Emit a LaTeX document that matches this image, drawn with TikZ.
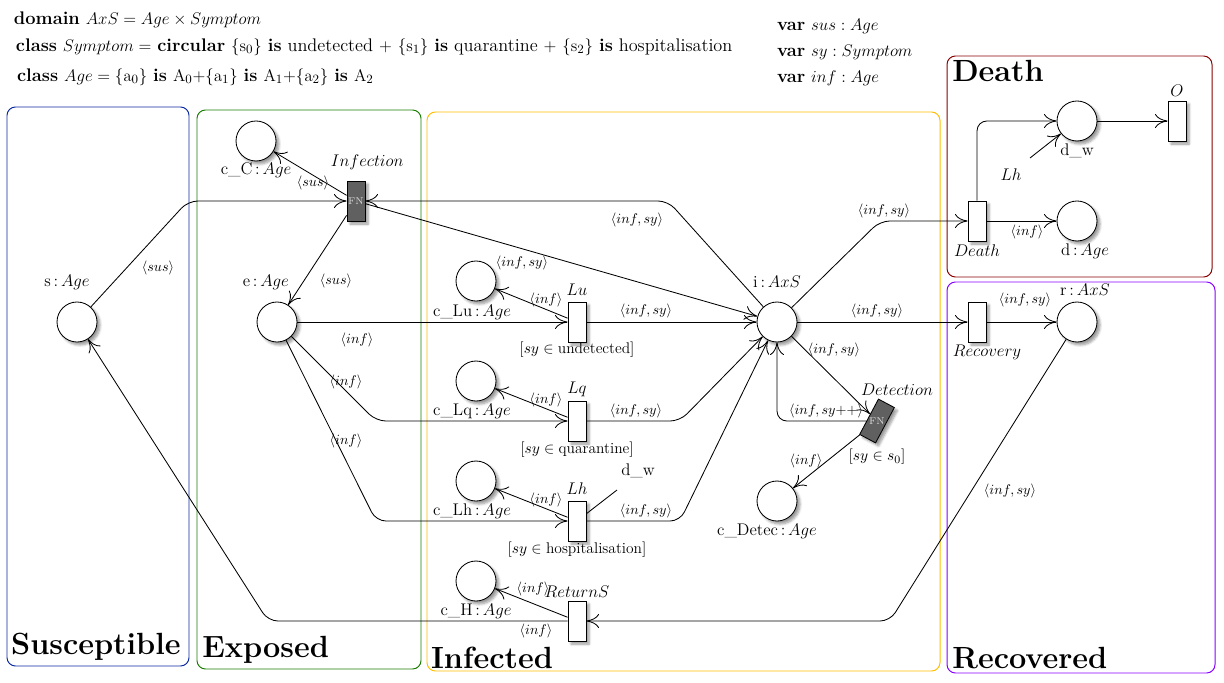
\documentclass[tikz,border=0pt]{standalone}
\usepackage{amsmath,amssymb}
\usetikzlibrary{arrows.meta,calc,shadows.blur}
\definecolor{susc}{RGB}{10,40,160}
\definecolor{expo}{RGB}{25,125,0}
\definecolor{infc}{RGB}{255,190,0}
\definecolor{dead}{RGB}{140,0,0}
\definecolor{reco}{RGB}{135,0,255}
\definecolor{fnfill}{RGB}{96,96,96}
\newcommand{\tp}[2]{#1\,:\,$#2$}
\tikzset{
  every picture/.style={line width=0.6pt,
    >={Computer Modern Rightarrow[length=9pt,width=10pt]}},
  % Stellen und Transitionen
  place/.style={circle, draw, fill=white, minimum size=1cm, inner sep=0pt,
    blur shadow={shadow blur steps=6}},
  trans/.style={rectangle, draw, fill=white, minimum width=0.45cm,
    minimum height=1cm, inner sep=0pt, blur shadow={shadow blur steps=6}},
  fntrans/.style={trans, fill=fnfill},
  fntxt/.style={font=\scriptsize, text=black!15},
  % Kanten
  flow/.style={->, rounded corners=7pt},
  % Beschriftungen
  pl/.style={font=\large},
  al/.style={font=\normalsize, inner sep=1pt},
  guard/.style={font=\fontsize{11}{13}\selectfont, inner sep=1pt},
  region/.style={draw=#1, rounded corners=6pt, line width=0.7pt},
  boxtitle/.style={font=\fontsize{21.8}{26}\selectfont\bfseries, anchor=west},
  decl/.style={font=\fontsize{13}{15.6}\selectfont, anchor=west},
}
\begin{document}
\begin{tikzpicture}
  \useasboundingbox (0,0) rectangle (30.6,17.05);
  % Bereiche
  \draw[region=susc] (0.175,0.4) rectangle (4.725,14.375);
  \draw[region=expo] (4.925,0.325) rectangle (10.525,14.3);
  \draw[region=infc] (10.675,0.275) rectangle (23.5,14.25);
  \draw[region=dead] (23.675,10.125) rectangle (30.3,15.65);
  \draw[region=reco] (23.675,0.225) rectangle (30.375,10.0);
  \node[boxtitle] at (0.15,0.875) {Susceptible};
  \node[boxtitle] at (4.93,0.8) {Exposed};
  \node[boxtitle] at (10.65,0.6) {Infected};
  \node[boxtitle] at (23.68,15.275) {Death};
  \node[boxtitle] at (23.68,0.6) {Recovered};
  % Deklarationen
  \node[decl] at (0.22,16.55) {\textbf{domain} $AxS = Age\times Symptom$};
  \node[decl] at (0.27,15.875) {\textbf{class} $Symptom =$ \textbf{circular}
    $\{\mathrm{s}_0\}$ \textbf{is} undetected $+$ $\{\mathrm{s}_1\}$ \textbf{is}
    quarantine $+$ $\{\mathrm{s}_2\}$ \textbf{is} hospitalisation};
  \node[decl] at (0.3,15.125) {\textbf{class} $Age = \{\mathrm{a}_0\}$ \textbf{is}
    $\mathrm{A}_0{+}\{\mathrm{a}_1\}$ \textbf{is} $\mathrm{A}_1{+}\{\mathrm{a}_2\}$
    \textbf{is} $\mathrm{A}_2$};
  \node[decl] at (19.3,16.4) {\textbf{var} $sus : Age$};
  \node[decl] at (19.3,15.75) {\textbf{var} $sy : Symptom$};
  \node[decl] at (19.3,15.1) {\textbf{var} $inf : Age$};
  % Stellen und Transitionen
  \node[place] (s) at (1.925,9) {};
  \node[place] (e) at (6.925,9) {};
  \node[place] (cC) at (6.4,13.525) {};
  \node[fntrans] (infn) at (8.9,12.025) {};
  \node[fntxt] at (infn) {FN};
  \node[place] (cLu) at (11.9,10.025) {};
  \node[trans] (Lu) at (14.425,9) {};
  \node[place] (cLq) at (11.9,7.525) {};
  \node[trans] (Lq) at (14.425,6.525) {};
  \node[place] (cLh) at (11.9,5.025) {};
  \node[trans] (Lh) at (14.425,4.025) {};
  \node[place] (cH) at (11.9,2.525) {};
  \node[trans] (ret) at (14.425,1.525) {};
  \node[place] (i) at (19.425,9) {};
  \node[fntrans, rotate=-28] (det) at (21.925,6.525) {};
  \node[fntxt] at (det) {FN};
  \node[place] (cDet) at (19.425,4.525) {};
  \node[trans] (dth) at (24.425,11.525) {};
  \node[place] (d) at (26.925,11.525) {};
  \node[place] (dw) at (26.925,14.025) {};
  \node[trans] (O) at (29.425,14.025) {};
  \node[trans] (rec) at (24.425,9) {};
  \node[place] (r) at (26.925,9) {};
  % Namen, Typen und Waechter
  \node[pl] at ($(s)+(-0.25,1)$) {\tp{s}{Age}};
  \node[pl] at ($(e)+(-0.28,1)$) {\tp{e}{Age}};
  \node[pl] at ($(cC)+(0,-0.73)$) {\tp{c\_C}{Age}};
  \node[pl] at ($(infn)+(0.28,0.98)$) {$Infection$};
  \node[pl] at ($(cLu)+(-0.1,-0.78)$) {\tp{c\_Lu}{Age}};
  \node[pl] at ($(Lu)+(0,0.8)$) {$Lu$};
  \node[guard] at ($(Lu)+(0,-0.7)$) {$[sy\in\text{undetected}]$};
  \node[pl] at ($(cLq)+(-0.1,-0.75)$) {\tp{c\_Lq}{Age}};
  \node[pl] at ($(Lq)+(0,0.8)$) {$Lq$};
  \node[guard] at ($(Lq)+(0,-0.72)$) {$[sy\in\text{quarantine}]$};
  \node[pl] at ($(cLh)+(-0.1,-0.75)$) {\tp{c\_Lh}{Age}};
  \node[pl] at ($(Lh)+(0,0.8)$) {$Lh$};
  \node[guard] at ($(Lh)+(0,-0.72)$) {$[sy\in\text{hospitalisation}]$};
  \node[pl] at ($(cH)+(0,-0.75)$) {\tp{c\_H}{Age}};
  \node[pl] at ($(ret)+(0,0.72)$) {$ReturnS$};
  \node[pl] at ($(i)+(0,1)$) {\tp{i}{AxS}};
  \node[pl] at ($(det)+(0.5,0.78)$) {$Detection$};
  \node[guard] at ($(det)+(0,-0.9)$) {$[sy\in s_0]$};
  \node[pl] at ($(cDet)+(-0.25,-0.75)$) {\tp{c\_Detec}{Age}};
  \node[pl] at ($(dth)+(0,-0.75)$) {$Death$};
  \node[pl] at ($(d)+(0.2,-0.75)$) {\tp{d}{Age}};
  \node[pl] at ($(dw)+(0,-0.75)$) {d\_w};
  \node[pl] at ($(O)+(0,0.75)$) {$O$};
  \node[pl] at ($(rec)+(0.25,-0.75)$) {$Recovery$};
  \node[pl] at ($(r)+(0.2,0.8)$) {\tp{r}{AxS}};
  % Kanten: Ansteckung
  \draw[flow] (s) -- (4.7,12.025) -- (infn);
  \draw[->] (infn) -- (cC);
  \draw[->] (infn) -- (e);
  \draw[flow] (i) -- (16.7,12.025) -- (infn);
  \draw[->] (infn) -- (i);
  \node[al] at (3.95,10.35) {$\langle sus\rangle$};
  \node[al] at (7.825,12.475) {$\langle sus\rangle$};
  \node[al] at (8.4,10.025) {$\langle sus\rangle$};
  \node[al] at (15.925,11.55) {$\langle inf, sy\rangle$};
  \node[al] at (13.05,10.475) {$\langle inf, sy\rangle$};
  % Kanten: Latenz
  \draw[->] (e) -- (Lu);
  \draw[flow] (e) -- (9.4,6.525) -- (Lq);
  \draw[flow] (e) -- (9.4,4.025) -- (Lh);
  \draw[->] (Lu) -- (cLu);
  \draw[->] (Lq) -- (cLq);
  \draw[->] (Lh) -- (cLh);
  \draw[->] (Lu) -- (i);
  \draw[flow] (Lq) -- (17,6.525) -- (i);
  \draw[flow] (Lh) -- (17,4.025) -- (i);
  \coordinate (lhlink) at (15.425,4.8);
  \draw (Lh) -- (lhlink);
  \node[pl] at (15.95,5.275) {d\_w};
  \node[al] at (8.925,8.55) {$\langle inf\rangle$};
  \node[al] at (8.65,7.5) {$\langle inf\rangle$};
  \node[al] at (8.65,6.025) {$\langle inf\rangle$};
  \node[al] at (13.65,9.55) {$\langle inf\rangle$};
  \node[al] at (13.65,7.05) {$\langle inf\rangle$};
  \node[al] at (13.65,4.55) {$\langle inf\rangle$};
  \node[al] at (16.15,9.275) {$\langle inf, sy\rangle$};
  \node[al] at (15.9,6.775) {$\langle inf, sy\rangle$};
  \node[al] at (16.15,4.275) {$\langle inf, sy\rangle$};
  % Kanten: Rueckkehr
  \draw[->] (ret) -- (cH);
  \draw[flow] (ret) -- (6.7,1.525) -- (s);
  \draw[flow] (r) -- (22.25,1.525) -- (ret);
  \node[al] at (13.325,2.325) {$\langle inf\rangle$};
  \node[al] at (13.4,1.275) {$\langle inf\rangle$};
  \node[al] at (25.25,4.775) {$\langle inf, sy\rangle$};
  % Kanten: Erkennung
  \draw[->] (i) -- (det);
  \draw[flow] (det) -- (19.425,6.525) -- (i);
  \draw[->] (det) -- (cDet);
  \node[al] at (20.85,8.3) {$\langle inf, sy\rangle$};
  \node[al] at (20.65,6.775) {$\langle inf, sy{+}{+}\rangle$};
  \node[al] at (20.15,5.525) {$\langle inf\rangle$};
  % Kanten: Tod und Genesung
  \draw[flow] (i) -- (22,11.525) -- (dth);
  \draw[->] (dth) -- (d);
  \draw[flow] (dth) -- (24.425,14.025) -- (dw);
  \draw[->] (dw) -- (O);
  \coordinate (lhref) at (25.75,13.1);
  \draw[->] (lhref) -- (dw);
  \node[pl] at (25.275,12.675) {$Lh$};
  \draw[->] (i) -- (rec);
  \draw[->] (rec) -- (r);
  \node[al] at (22.1,11.775) {$\langle inf, sy\rangle$};
  \node[al] at (25.675,11.25) {$\langle inf\rangle$};
  \node[al] at (21.925,9.275) {$\langle inf, sy\rangle$};
  \node[al] at (25.625,9.55) {$\langle inf, sy\rangle$};
\end{tikzpicture}
\end{document}
